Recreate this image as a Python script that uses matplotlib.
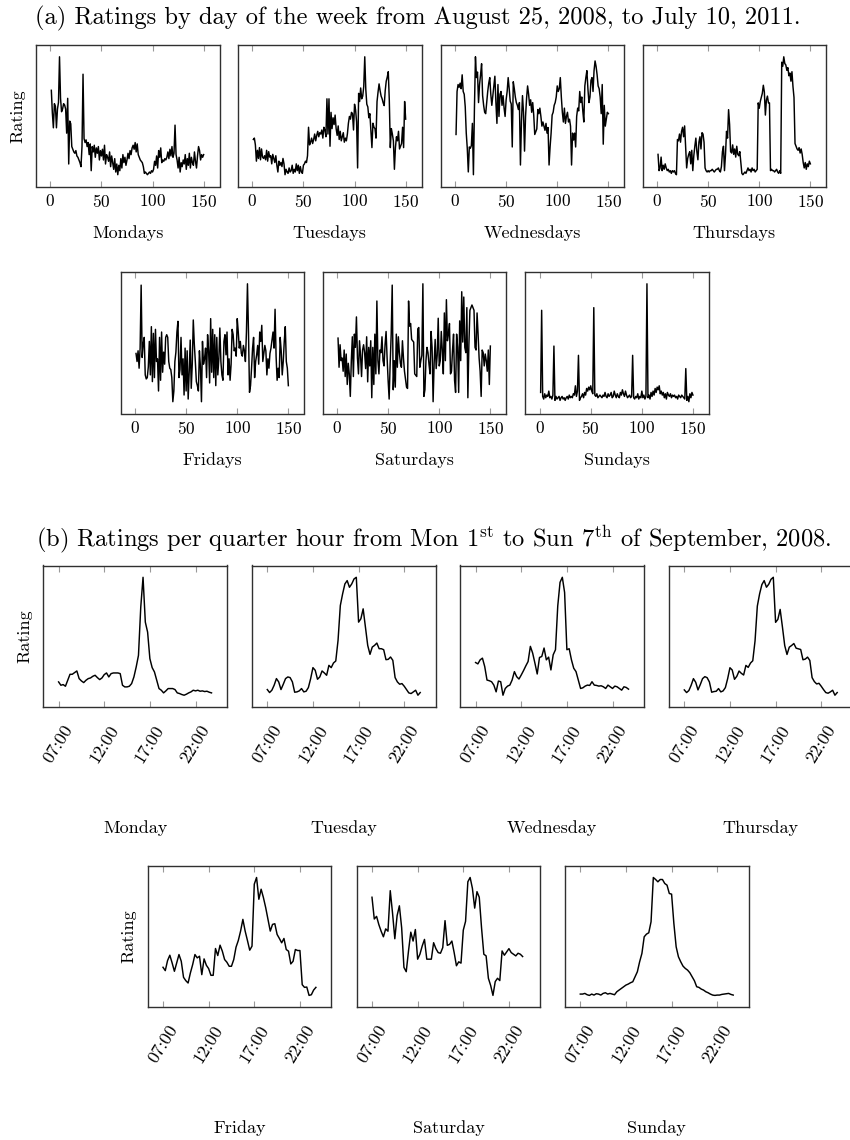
import numpy as np
import matplotlib
matplotlib.use("Agg")
import matplotlib.pyplot as plt

plt.rcParams['font.family'] = 'cmr10'
plt.rcParams['mathtext.fontset'] = 'cm'
plt.rcParams['axes.formatter.use_mathtext'] = True

W, H = 850, 1140

# ---- (a) weekly ratings, one point per week (index 1..150) ----
weekly_days = ["Mondays", "Tuesdays", "Wednesdays", "Thursdays",
               "Fridays", "Saturdays", "Sundays"]

mondays = [72, 55, 44, 62, 60, 44, 58, 63, 97, 66,
           56, 58, 62, 61, 58, 40, 66, 17, 49, 47,
           30, 28, 26, 25, 27, 23, 22, 20, 18, 15,
           30, 84, 36, 33, 35, 30, 33, 24, 32, 12,
           30, 26, 31, 22, 29, 25, 30, 20, 27, 23,
           28, 20, 31, 17, 24, 22, 19, 26, 15, 23,
           18, 13, 21, 11, 17, 9, 16, 12, 21, 14,
           24, 18, 22, 16, 20, 25, 21, 27, 24, 29,
           31, 28, 33, 26, 32, 24, 22, 20, 19, 18,
           15, 10, 11, 10, 9, 10, 11, 10, 12, 11,
           13, 19, 16, 23, 14, 27, 22, 29, 18, 20,
           19, 21, 20, 22, 26, 21, 28, 23, 30, 22,
           25, 46, 24, 20, 14, 22, 11, 18, 15, 20,
           17, 24, 13, 21, 16, 25, 14, 22, 18, 16,
           26, 19, 14, 23, 30, 27, 20, 24, 22, 24]

tuesdays = [36, 37, 32, 20, 28, 22, 30, 21, 29, 23,
            22, 24, 21, 28, 20, 27, 23, 24, 18, 25,
            22, 19, 24, 17, 12, 20, 17, 19, 16, 22,
            18, 10, 14, 12, 11, 15, 12, 13, 17, 11,
            14, 12, 18, 13, 17, 11, 16, 12, 11, 17,
            18, 20, 19, 24, 45, 32, 34, 37, 33, 36,
            40, 35, 39, 42, 38, 41, 40, 43, 37, 45,
            43, 38, 66, 40, 66, 31, 56, 44, 52, 47,
            54, 44, 39, 46, 36, 42, 35, 38, 41, 34,
            37, 35, 40, 48, 53, 51, 56, 55, 43, 62,
            58, 49, 15, 70, 64, 74, 66, 68, 75, 97,
            73, 62, 60, 52, 55, 43, 30, 48, 45, 44,
            37, 64, 71, 77, 72, 68, 66, 63, 61, 72,
            79, 82, 86, 65, 30, 44, 40, 35, 14, 30,
            38, 35, 42, 29, 31, 33, 45, 30, 64, 51]

wednesdays = [39, 70, 75, 73, 76, 72, 82, 70, 68, 59,
              40, 29, 12, 30, 29, 31, 47, 10, 58, 95,
              80, 84, 62, 75, 82, 90, 67, 60, 55, 54,
              62, 70, 76, 80, 68, 60, 67, 74, 81, 62,
              47, 75, 52, 68, 70, 60, 67, 58, 52, 64,
              70, 80, 72, 63, 61, 30, 77, 72, 66, 62,
              60, 57, 62, 17, 48, 67, 55, 27, 52, 65,
              74, 68, 60, 64, 55, 62, 53, 39, 41, 43,
              57, 54, 58, 52, 45, 48, 45, 42, 47, 40,
              44, 17, 30, 40, 53, 55, 60, 62, 66, 74,
              70, 72, 80, 66, 55, 48, 58, 47, 52, 55,
              48, 50, 45, 17, 40, 35, 40, 30, 52, 58,
              56, 70, 62, 66, 56, 48, 74, 80, 85, 72,
              62, 66, 78, 80, 70, 85, 92, 88, 82, 74,
              72, 66, 54, 75, 32, 60, 45, 50, 55, 54]

thursdays = [24, 12, 14, 22, 12, 16, 13, 17, 14, 12,
             13, 11, 12, 10, 12, 11, 12, 10, 9, 35,
             34, 39, 33, 41, 44, 37, 45, 29, 14, 21,
             24, 26, 17, 27, 12, 23, 30, 36, 26, 20,
             33, 37, 28, 40, 39, 33, 14, 12, 11, 12,
             11, 12, 12, 13, 12, 11, 12, 13, 13, 14,
             12, 11, 15, 26, 30, 12, 24, 41, 36, 57,
             46, 26, 25, 31, 24, 28, 22, 30, 24, 23,
             26, 18, 10, 9, 10, 11, 10, 12, 14, 12,
             13, 11, 14, 12, 13, 11, 12, 13, 62, 58,
             63, 66, 69, 75, 70, 53, 64, 67, 62, 62,
             12, 13, 12, 12, 11, 12, 13, 11, 10, 12,
             10, 92, 89, 96, 91, 90, 86, 88, 82, 84,
             78, 85, 74, 66, 32, 30, 28, 27, 29, 25,
             28, 24, 18, 14, 18, 13, 17, 15, 19, 17]

fridays = [46, 40, 48, 35, 50, 97, 43, 53, 58, 30,
           27, 28, 36, 55, 30, 66, 25, 61, 28, 64,
           40, 42, 18, 58, 26, 62, 32, 47, 38, 58,
           60, 58, 40, 35, 34, 28, 10, 18, 40, 47,
           62, 70, 28, 34, 58, 30, 42, 15, 50, 18,
           48, 12, 32, 56, 20, 38, 71, 53, 40, 25,
           22, 18, 48, 36, 10, 55, 38, 42, 50, 28,
           60, 48, 24, 72, 32, 64, 28, 60, 22, 58,
           30, 42, 65, 40, 30, 26, 55, 60, 45, 62,
           30, 42, 26, 38, 64, 60, 48, 50, 44, 72,
           62, 50, 55, 46, 44, 52, 48, 40, 62, 98,
           62, 17, 22, 35, 50, 58, 28, 40, 45, 52,
           38, 62, 55, 67, 40, 46, 52, 48, 30, 42,
           35, 46, 50, 56, 62, 50, 79, 44, 26, 35,
           28, 58, 48, 30, 40, 55, 66, 40, 35, 22]

saturdays = [57, 35, 52, 40, 42, 32, 48, 28, 45, 22,
             38, 30, 13, 40, 58, 28, 60, 50, 73, 42,
             30, 55, 44, 28, 48, 52, 46, 34, 58, 24,
             50, 36, 55, 12, 50, 22, 60, 30, 85, 40,
             30, 48, 46, 58, 40, 36, 52, 62, 42, 25,
             11, 38, 60, 97, 18, 40, 20, 60, 35, 58,
             46, 38, 35, 55, 42, 32, 26, 20, 19, 85,
             66, 68, 56, 55, 54, 30, 29, 28, 64, 65,
             35, 40, 44, 98, 13, 18, 40, 50, 46, 37,
             30, 62, 50, 9, 38, 56, 34, 44, 72, 36,
             40, 62, 48, 30, 76, 40, 86, 55, 60, 68,
             30, 32, 48, 60, 25, 16, 60, 50, 16, 70,
             40, 92, 54, 88, 50, 46, 80, 12, 52, 78,
             80, 82, 80, 78, 50, 48, 76, 60, 42, 32,
             13, 48, 46, 36, 45, 40, 32, 48, 22, 51]

sundays = [16, 78, 13, 11, 15, 12, 14, 13, 17, 12,
           13, 11, 14, 51, 10, 13, 11, 12, 13, 10,
           12, 13, 11, 12, 10, 12, 13, 11, 14, 12,
           13, 12, 15, 14, 21, 13, 17, 44, 10, 12,
           13, 15, 12, 16, 14, 19, 17, 20, 18, 21,
           17, 15, 80, 14, 13, 15, 12, 13, 14, 13,
           12, 14, 13, 16, 13, 12, 15, 13, 14, 16,
           12, 13, 17, 14, 12, 15, 13, 12, 16, 14,
           18, 15, 13, 17, 14, 12, 13, 14, 12, 13,
           44, 12, 11, 13, 12, 15, 11, 13, 12, 17,
           12, 14, 11, 13, 98, 12, 14, 11, 16, 13,
           17, 14, 19, 16, 20, 18, 21, 15, 17, 14,
           16, 12, 15, 11, 16, 14, 13, 15, 12, 14,
           13, 14, 12, 13, 11, 14, 13, 12, 14, 13,
           12, 11, 34, 10, 13, 9, 15, 12, 16, 14]

weekly_ticks = [0, 50, 100, 150]

# ---- (b) quarter-hour ratings, first Sep 2008 week, from 07:00 ----
daily_days = ["Monday", "Tuesday", "Wednesday", "Thursday",
              "Friday", "Saturday", "Sunday"]

mon_q = [75, 65, 67, 62, 80, 98, 98, 103, 108, 85, 78, 73,
         80, 85, 87, 92, 95, 88, 82, 87, 97, 102, 90, 100,
         102, 102, 102, 100, 65, 60, 60, 62, 70, 90, 120, 155,
         300, 390, 255, 225, 145, 118, 105, 80, 55, 50, 42, 48,
         55, 55, 55, 52, 42, 40, 37, 35, 38, 42, 45, 50,
         48, 50, 47, 48, 46, 47, 44, 42]

tue_q = [52, 43, 50, 65, 85, 75, 52, 68, 85, 90, 88, 75,
         44, 45, 48, 55, 45, 47, 58, 85, 118, 110, 83, 90,
         108, 102, 95, 125, 118, 132, 138, 200, 305, 340, 370, 380,
         360, 370, 385, 390, 255, 265, 295, 240, 185, 158, 180, 185,
         192, 175, 175, 172, 142, 143, 150, 140, 88, 75, 68, 70,
         62, 52, 42, 40, 45, 50, 35, 43]

wed_q = [132, 128, 140, 145, 120, 80, 78, 75, 65, 45, 77, 75,
         35, 55, 62, 65, 80, 105, 90, 83, 95, 108, 122, 135,
         180, 160, 130, 98, 147, 150, 175, 140, 148, 110, 155, 170,
         300, 370, 385, 340, 170, 173, 140, 115, 105, 80, 55, 57,
         62, 65, 64, 75, 65, 64, 62, 63, 60, 55, 65, 60,
         55, 62, 60, 55, 50, 60, 58, 53]

thu_q = [50, 42, 48, 64, 84, 73, 50, 66, 84, 90, 87, 74,
         43, 45, 46, 54, 44, 47, 57, 84, 117, 110, 82, 91,
         107, 100, 95, 124, 118, 131, 138, 198, 303, 340, 368, 380,
         360, 369, 384, 390, 254, 263, 293, 240, 184, 157, 179, 184,
         190, 176, 174, 172, 141, 143, 149, 139, 87, 75, 68, 70,
         61, 51, 42, 40, 44, 49, 34, 42]

fri_q = [124, 114, 144, 160, 137, 112, 137, 162, 142, 94, 84, 77,
         107, 132, 162, 152, 157, 102, 149, 130, 120, 100, 100, 180,
         159, 190, 172, 147, 139, 127, 127, 147, 184, 204, 232, 267,
         232, 204, 175, 187, 372, 392, 327, 357, 332, 302, 267, 232,
         252, 254, 222, 210, 197, 210, 177, 172, 134, 142, 177, 174,
         174, 72, 64, 65, 40, 42, 56, 64]

sat_q = [328, 262, 270, 245, 225, 208, 232, 225, 348, 280, 202, 272,
         302, 235, 115, 102, 165, 222, 195, 230, 140, 155, 180, 200,
         140, 140, 140, 190, 172, 160, 158, 175, 257, 182, 185, 195,
         160, 120, 132, 128, 228, 255, 375, 388, 355, 295, 345, 328,
         235, 155, 150, 82, 60, 30, 72, 82, 75, 165, 152, 162,
         172, 160, 155, 150, 158, 155, 148]

sun_q = [38, 38, 40, 36, 34, 38, 35, 39, 38, 35, 40, 42,
         38, 40, 38, 36, 45, 50, 55, 60, 65, 68, 72, 75,
         90, 105, 135, 160, 210, 218, 222, 255, 388, 382, 375, 382,
         382, 370, 365, 340, 338, 250, 180, 150, 135, 122, 115, 110,
         102, 90, 78, 60, 58, 53, 50, 45, 42, 38, 35, 34,
         35, 35, 37, 38, 39, 40, 37, 35]

start_hour = 7.0
hour_ticks = [7, 12, 17, 22]
hour_labels = ["07:00", "12:00", "17:00", "22:00"]

# ---- layout (pixels: left, top) ----
PW, PH = 183.5, 141.5
weekly_pos = [(36, 45), (238, 45), (440.7, 45), (642.7, 45),
              (120.7, 272), (322.7, 272), (525.3, 272)]
daily_pos = [(43.3, 565.5), (252, 565.5), (460.3, 565.5), (669, 565.5),
             (147.7, 865.7), (356.7, 865.7), (565, 865.7)]

TICK_FS = 12.5
ROT_FS = 13
LABEL_FS = 13
TITLE_FS = 17.6


def make_ax(fig, left, top):
    ax = fig.add_axes([left / W, 1 - (top + PH) / H, PW / W, PH / H])
    for s in ax.spines.values():
        s.set_linewidth(1.0)
        s.set_color('#303030')
    ax.tick_params(axis='x', direction='in', length=4.5, width=0.8,
                   color='#999999', top=True, bottom=True,
                   labelsize=TICK_FS)
    ax.tick_params(axis='y', left=False, right=False, labelleft=False)
    return ax


fig = plt.figure(figsize=(W / 100, H / 100), dpi=100)

fig.text(35 / W, 1 - 18 / H,
         "(a) Ratings by day of the week from August 25, 2008, to July 10, 2011.",
         fontsize=TITLE_FS, ha='left', va='center')

weekly_data = [mondays, tuesdays, wednesdays, thursdays,
               fridays, saturdays, sundays]
for i, (name, vals, pos) in enumerate(zip(weekly_days, weekly_data, weekly_pos)):
    ax = make_ax(fig, *pos)
    weeks = np.arange(1, len(vals) + 1)
    ax.plot(weeks, vals, color='black', lw=1.05)
    ax.set_xlim(-14, 165.5)
    ax.margins(y=0.1)
    ax.set_xticks(weekly_ticks)
    ax.tick_params(axis='x', pad=5)
    ax.set_xlabel(name, fontsize=LABEL_FS)
    ax.xaxis.set_label_coords(0.5, -0.27)
    if i == 0:
        ax.set_ylabel("Rating", fontsize=LABEL_FS)
        ax.yaxis.set_label_coords(-0.06, 0.5)

fig.text(36 / W, 1 - 540 / H,
         r"(b) Ratings per quarter hour from Mon 1$^{\mathrm{st}}$ to Sun 7$^{\mathrm{th}}$ of September, 2008.",
         fontsize=TITLE_FS, ha='left', va='center')

daily_data = [mon_q, tue_q, wed_q, thu_q, fri_q, sat_q, sun_q]
for i, (name, vals, pos) in enumerate(zip(daily_days, daily_data, daily_pos)):
    ax = make_ax(fig, *pos)
    hours = start_hour + 0.25 * np.arange(len(vals))
    ax.plot(hours, vals, color='black', lw=1.05)
    ax.set_xlim(5.325, 25.425)
    ax.margins(y=0.1)
    ax.set_xticks(hour_ticks)
    ax.set_xticklabels(hour_labels, rotation=58, ha='center', va='top',
                       fontsize=ROT_FS)
    ax.tick_params(axis='x', pad=11)
    ax.set_xlabel(name, fontsize=LABEL_FS)
    ax.xaxis.set_label_coords(0.5, -0.8)
    if i in (0, 4):
        ax.set_ylabel("Rating", fontsize=LABEL_FS)
        ax.yaxis.set_label_coords(-0.06, 0.5)

fig.savefig("out.png", dpi=100)
